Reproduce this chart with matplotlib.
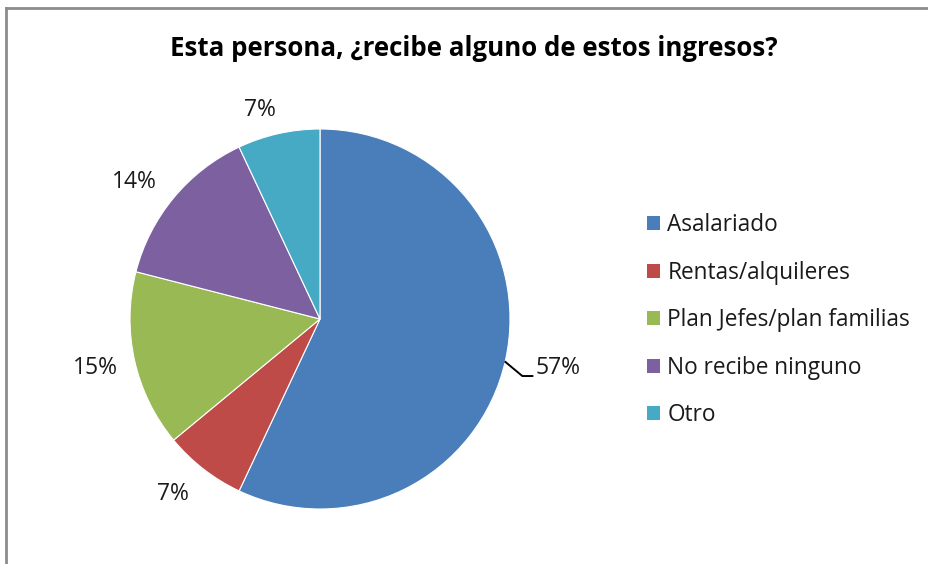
import matplotlib
matplotlib.use("Agg")
import matplotlib.pyplot as plt
import numpy as np
from matplotlib.patches import Patch

plt.rcParams['font.family'] = ['Open Sans', 'DejaVu Sans']

title = "Esta persona, ¿recibe alguno de estos ingresos?"
categories = ["Asalariado", "Rentas/alquileres", "Plan Jefes/plan familias",
              "No recibe ninguno", "Otro"]
values = [57, 7, 15, 14, 7]
colors = ["#4A7EBB", "#BE4B48", "#98B954", "#7D60A0", "#46AAC5"]

# label placement styles (angle shift in degrees, radial distance)
label_shift = [0.0, -2.4, -0.3, 3.2, 3.4]
label_dist = [1.2, 1.203, 1.212, 1.214, 1.147]

W, H = 929, 564
fig = plt.figure(figsize=(W / 100, H / 100), dpi=100)

# frame
fig.add_artist(plt.Line2D([6 / W, 6 / W], [0, 1 - 8 / H], color="#8c8c8c", lw=2,
                          transform=fig.transFigure))
fig.add_artist(plt.Line2D([6 / W, 1], [1 - 8 / H, 1 - 8 / H], color="#8c8c8c", lw=2,
                          transform=fig.transFigure))

R = 190
cx, cy = 320, 319
lim = 1.3
ax = fig.add_axes([(cx - lim * R) / W, (H - cy - lim * R) / H,
                   2 * lim * R / W, 2 * lim * R / H])
wedges, texts, autotexts = ax.pie(values, colors=colors, startangle=90,
                                  counterclock=False, autopct="%1.0f%%",
                                  pctdistance=1.2, radius=1,
                                  wedgeprops=dict(linewidth=0.8, edgecolor="white"),
                                  textprops=dict(fontsize=16.5, color="#1a1a1a"))
ax.set_xlim(-lim, lim)
ax.set_ylim(-lim, lim)
ax.set_aspect("equal")
ax.axis("off")

for i, (w, t) in enumerate(zip(wedges, autotexts)):
    if i == 0:
        continue
    a = np.deg2rad((w.theta1 + w.theta2) / 2 + label_shift[i])
    t.set_position((label_dist[i] * np.cos(a), label_dist[i] * np.sin(a)))
    t.set_ha("center")
    t.set_va("center")

# leader line for largest slice
w0 = wedges[0]
mid = np.deg2rad((w0.theta1 + w0.theta2) / 2)
x0, y0 = np.cos(mid), np.sin(mid)
p1 = (x0, y0 - 0.008)
p2 = (p1[0] + 0.089, p1[1] - 0.074)
p3 = (p2[0] + 0.053, p2[1])
ax.plot([p1[0], p2[0], p3[0]], [p1[1], p2[1], p3[1]], color="black", lw=1.4,
        clip_on=False)
autotexts[0].set_position((p3[0] + 0.014, p3[1] + 0.042))
autotexts[0].set_ha("left")
autotexts[0].set_va("center")

fig.text(474 / W, 1 - 49 / H, title, ha="center", va="center",
         fontsize=18.6, fontweight="bold", color="black")

handles = [Patch(facecolor=c, edgecolor="none") for c in colors]
leg = fig.legend(handles, categories, loc="upper left",
                 bbox_to_anchor=(647 / W, 1 - 213 / H), frameon=False,
                 fontsize=16.3, handlelength=0.58, handleheight=0.58,
                 handletextpad=0.32, labelspacing=1.04, borderpad=0,
                 borderaxespad=0)
for t in leg.get_texts():
    t.set_color("#1a1a1a")

fig.savefig("out.png", dpi=100, facecolor="white")
